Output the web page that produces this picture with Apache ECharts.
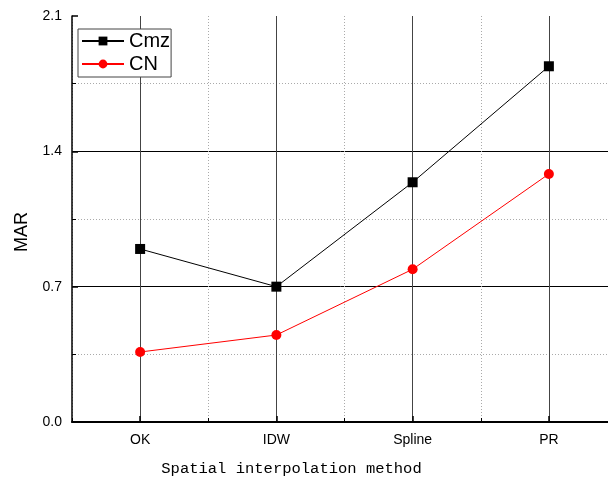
<!DOCTYPE html>
<html>
<head>
<meta charset="utf-8">
<script src="https://cdn.jsdelivr.net/npm/echarts@6/dist/echarts.min.js"></script>
<style>
  html, body { margin: 0; padding: 0; background: #fff; }
  #chart { width: 608px; height: 482px; }
</style>
</head>
<body>
<div id="chart"></div>
<script>
// Interpolation methods and mean absolute residuals
const methods = ['OK', 'IDW', 'Spline', 'PR'];
const cmzValues = [0.895, 0.70, 1.24, 1.84];
const cnValues = [0.362, 0.45, 0.79, 1.283];
const yTicks = [0, 0.7, 1.4, 2.1];

const chart = echarts.init(document.getElementById('chart'));

const labelFont = 'Liberation Sans, Arial, sans-serif';

chart.setOption({
  animation: false,
  backgroundColor: '#fff',
  grid: {
    left: 72, top: 16, width: 545, height: 406,
    containLabel: false, outerBoundsMode: 'none'
  },
  legend: {
    orient: 'vertical',
    left: 78,
    top: 29,
    backgroundColor: '#fff',
    borderColor: '#444',
    borderWidth: 1,
    borderRadius: 0,
    padding: [1, 1, 2, 3],
    itemGap: 1,
    itemWidth: 42,
    itemHeight: 11,
    textStyle: { fontFamily: labelFont, fontSize: 20, lineHeight: 22, color: '#000' },
    data: ['Cmz', 'CN']
  },
  xAxis: [
    {
      type: 'category',
      data: methods,
      boundaryGap: true,
      name: 'Spatial interpolation method',
      nameLocation: 'middle',
      nameGap: 39,
      nameTextStyle: {
        fontFamily: 'Liberation Mono, monospace', fontSize: 15.5, color: '#000',
        padding: [0, 106, 0, 0]
      },
      axisLine: { show: true, lineStyle: { color: '#000', width: 2 } },
      axisTick: { show: true, inside: true, alignWithLabel: true, length: 6, lineStyle: { color: '#000', width: 1.5 } },
      axisLabel: { fontFamily: labelFont, fontSize: 14, color: '#000', margin: 11 },
      splitLine: { show: true, alignWithLabel: true, lineStyle: { color: '#444', width: 1 } }
    },
    {
      type: 'category',
      data: methods,
      boundaryGap: true,
      position: 'bottom',
      axisLine: { show: false },
      axisLabel: { show: false },
      axisTick: { show: true, inside: true, length: 4, lineStyle: { color: '#000', width: 1 } },
      splitLine: { show: true, lineStyle: { color: '#aaa', width: 1, type: [1, 2] } }
    }
  ],
  yAxis: {
    type: 'value',
    min: yTicks[0],
    max: yTicks[yTicks.length - 1],
    interval: 0.7,
    name: 'MAR',
    nameLocation: 'middle',
    nameGap: 41,
    nameTextStyle: {
      fontFamily: labelFont, fontSize: 18, color: '#000',
      padding: [0, 26, 0, 0]
    },
    axisLine: { show: true, lineStyle: { color: '#000', width: 1.5 } },
    axisTick: { show: true, inside: true, length: 6, lineStyle: { color: '#000', width: 1.5 } },
    minorTick: { show: true, splitNumber: 2, length: 4, lineStyle: { color: '#000', width: 1 } },
    axisLabel: {
      fontFamily: labelFont, fontSize: 14, color: '#000', margin: 10,
      formatter: v => v.toFixed(1)
    },
    splitLine: { show: true, showMinLine: false, showMaxLine: false, lineStyle: { color: '#000', width: 1 } },
    minorSplitLine: { show: true, lineStyle: { color: '#aaa', width: 1, type: [1, 2] } }
  },
  series: [
    {
      name: 'Cmz',
      type: 'line',
      data: cmzValues,
      symbol: 'rect',
      symbolSize: 10,
      itemStyle: { color: '#000' },
      lineStyle: { color: '#000', width: 1 },
      z: 3
    },
    {
      name: 'CN',
      type: 'line',
      data: cnValues,
      symbol: 'circle',
      symbolSize: 10,
      itemStyle: { color: '#ff0000' },
      lineStyle: { color: '#ff0000', width: 1 },
      z: 3
    }
  ]
});
</script>
</body>
</html>
